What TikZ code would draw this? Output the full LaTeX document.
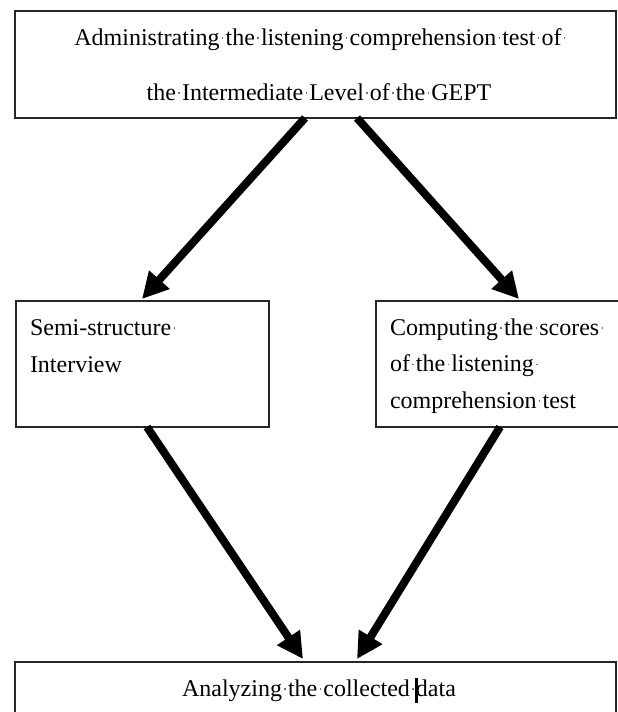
\documentclass[tikz,border=0pt]{standalone}
\usepackage{fontspec}
\setmainfont{Liberation Serif}
\usetikzlibrary{arrows.meta}
\newcommand\wsp{\makebox[0.25em]{\textcolor{black!55}{\rule[0.27em]{1.4pt}{1.4pt}}}}
\newcommand\wcursor{\rlap{\hspace{-1pt}\rule[-7pt]{2.6pt}{25pt}}}
\begin{document}
\begin{tikzpicture}[x=1pt,y=-1pt,
  boxnode/.style={draw=black!85,line width=1.3pt,inner sep=0pt,outer sep=0pt},
  txt/.style={inner sep=0pt,outer sep=0pt,font=\fontsize{24}{24}\selectfont},
  arr/.style={line width=8pt,-{Triangle[length=26pt,width=26pt]}}]
\useasboundingbox (0,0) rectangle (618,712);
\clip (0,0) rectangle (618,712);
% boxes
\node[boxnode,minimum width=601pt,minimum height=107pt] (top) at (315.5,64.5) {};
\node[boxnode,minimum width=253pt,minimum height=126pt] (left) at (142.5,364) {};
\node[boxnode,minimum width=264pt,minimum height=126pt] (right) at (508,364) {};
\node[boxnode,minimum width=601pt,minimum height=98pt] (bottom) at (315.5,711) {};
% texts
\node[txt,anchor=base] (t1) at (318,45) {Administrating\wsp the\wsp listening\wsp comprehension\wsp test\wsp of\rlap{\wsp}};
\node[txt,anchor=base] (t2) at (319,100) {the\wsp Intermediate\wsp Level\wsp of\wsp the\wsp GEPT};
\node[txt,anchor=base west] (l1) at (30,335) {Semi-structure\wsp};
\node[txt,anchor=base west] (l2) at (30,372) {Interview};
\node[txt,anchor=base west] (r1) at (390,335) {Computing\wsp the\wsp scores\wsp};
\node[txt,anchor=base west] (r2) at (390,371.5) {of\wsp the\wsp listening\wsp};
\node[txt,anchor=base west] (r3) at (390,408) {comprehension\wsp test};
\node[txt,anchor=base] (b1) at (319,696) {Analyzing\wsp the\wsp collected\wsp\wcursor data};
% arrows
\draw[arr] ([xshift=-10.5pt]top.south) -- ([xshift=-0.5pt,yshift=2pt]left.north);
\draw[arr] ([xshift=41.5pt]top.south) -- ([xshift=11pt,yshift=2pt]right.north);
\draw[arr] ([xshift=4.5pt]left.south) -- ([xshift=-12.5pt,yshift=3pt]bottom.north);
\draw[arr] ([xshift=-8pt]right.south) -- ([xshift=41.5pt,yshift=3pt]bottom.north);
\end{tikzpicture}
\end{document}
